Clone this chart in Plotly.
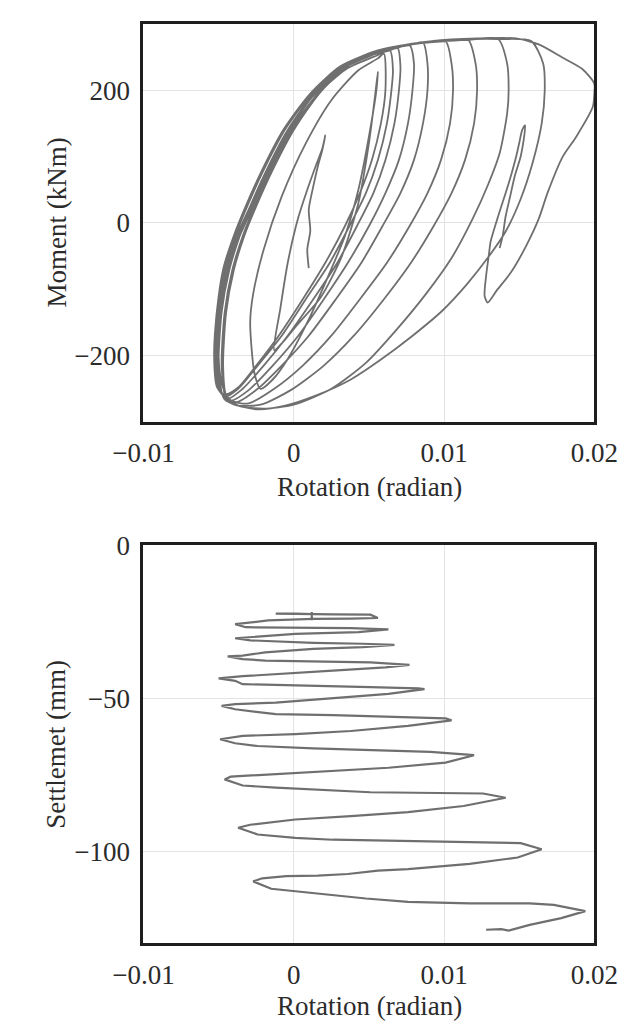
import plotly.graph_objects as go

# ---------------- tick definitions ----------------
rot_ticks = [-0.01, 0, 0.01, 0.02]
rot_tick_labels = ["\u22120.01", "0", "0.01", "0.02"]
moment_ticks = [-200, 0, 200]
moment_tick_labels = ["\u2212200", "0", "200"]
settle_ticks = [-100, -50, 0]
settle_tick_labels = ["\u2212100", "\u221250", "0"]

# ---------------- moment-rotation cycles ----------------
c0_rot = [0.0010, 0.0009, 0.0011, 0.0010, 0.0013, 0.0016, 0.0019, 0.0021, 0.0019, 0.0015, 0.0009, 0.0003, -0.0004, -0.0009, -0.0013, -0.0007, 0.0001, 0.0018, 0.0032, 0.0043, 0.0050, 0.0054, 0.0056]
c0_mom = [-68, -40, -12, 20, 55, 85, 110, 132, 112, 88, 50, 8, -60, -130, -192, -179, -157, -112, -50, 30, 120, 190, 228]

c1_rot = [0.0055, 0.0050, 0.0043, 0.0034, 0.0022, 0.0009, -0.0004, -0.0014, -0.0022, -0.0026, -0.0029, -0.0027, -0.0020, -0.0008, 0.0008, 0.0025, 0.0043, 0.0056]
c1_mom = [200, 130, 50, -20, -85, -150, -205, -236, -250, -228, -150, -107, -40, 40, 120, 185, 230, 248]

c2_rot = [0.0060, 0.0061, 0.0058, 0.0052, 0.0044, 0.0034, 0.0021, 0.0006, -0.0010, -0.0025, -0.0037, -0.0045, -0.0048, -0.0050, -0.0048, -0.0043, -0.0036, -0.0027, -0.0016, -0.0002, 0.0015, 0.0035, 0.0055]
c2_mom = [255, 200, 150, 95, 45, -5, -60, -115, -170, -215, -248, -258, -240, -200, -130, -70, -20, 25, 80, 140, 192, 232, 252]

c3_rot = [0.0064, 0.0066, 0.0065, 0.0062, 0.0056, 0.0048, 0.0037, 0.0024, 0.0008, -0.0008, -0.0024, -0.0037, -0.0046, -0.0050, -0.0052, -0.0050, -0.0045, -0.0038, -0.0029, -0.0018, -0.0004, 0.0014, 0.0034, 0.0055, 0.0064]
c3_mom = [260, 230, 200, 150, 95, 45, -5, -60, -115, -170, -215, -250, -262, -245, -200, -130, -70, -20, 25, 80, 140, 194, 234, 255, 260]

c4_rot = [0.0069, 0.0071, 0.0070, 0.0067, 0.0061, 0.0053, 0.0042, 0.0029, 0.0013, -0.0004, -0.0020, -0.0034, -0.0044, -0.0051, -0.0053, -0.0051, -0.0046, -0.0039, -0.0031, -0.0020, -0.0006, 0.0012, 0.0032, 0.0055, 0.0069]
c4_mom = [264, 235, 200, 150, 95, 45, -5, -60, -115, -170, -215, -250, -265, -245, -200, -130, -70, -20, 25, 80, 140, 195, 236, 257, 264]

c5_rot = [0.0077, 0.0080, 0.0079, 0.0076, 0.0070, 0.0061, 0.0050, 0.0036, 0.0020, 0.0003, -0.0014, -0.0030, -0.0042, -0.0051, -0.0053, -0.0051, -0.0047, -0.0040, -0.0032, -0.0021, -0.0007, 0.0011, 0.0031, 0.0055, 0.0077]
c5_mom = [268, 240, 200, 150, 95, 45, -5, -60, -115, -170, -215, -252, -268, -248, -200, -130, -70, -20, 25, 80, 140, 195, 236, 259, 268]

c6_rot = [0.0086, 0.0089, 0.0089, 0.0086, 0.0080, 0.0071, 0.0059, 0.0045, 0.0028, 0.0010, -0.0008, -0.0024, -0.0038, -0.0046, -0.0050, -0.0052, -0.0050, -0.0046, -0.0039, -0.0031, -0.0020, -0.0006, 0.0012, 0.0032, 0.0056, 0.0086]
c6_mom = [272, 240, 200, 150, 95, 45, -5, -60, -115, -170, -215, -250, -270, -262, -250, -205, -130, -70, -20, 25, 80, 140, 196, 237, 260, 272]

c7_rot = [0.0101, 0.0105, 0.0106, 0.0104, 0.0098, 0.0089, 0.0077, 0.0062, 0.0044, 0.0025, 0.0006, -0.0013, -0.0030, -0.0042, -0.0049, -0.0051, -0.0049, -0.0044, -0.0037, -0.0029, -0.0018, -0.0004, 0.0014, 0.0034, 0.0058, 0.0085, 0.0101]
c7_mom = [274, 240, 200, 150, 95, 45, -5, -60, -115, -170, -215, -250, -272, -268, -252, -205, -130, -70, -20, 25, 80, 140, 197, 238, 261, 271, 274]

c8_rot = [0.0116, 0.0121, 0.0122, 0.0120, 0.0114, 0.0105, 0.0093, 0.0078, 0.0060, 0.0040, 0.0020, -0.0002, -0.0022, -0.0038, -0.0046, -0.0048, -0.0050, -0.0048, -0.0043, -0.0036, -0.0028, -0.0017, -0.0003, 0.0015, 0.0036, 0.0060, 0.0088, 0.0116]
c8_mom = [276, 240, 200, 150, 95, 45, -5, -60, -115, -170, -215, -252, -274, -275, -266, -255, -210, -135, -72, -20, 25, 80, 140, 198, 240, 262, 272, 276]

c9_rot = [0.0136, 0.0142, 0.0143, 0.0142, 0.0137, 0.0129, 0.0119, 0.0105, 0.0088, 0.0068, 0.0048, 0.0025, 0.0000, -0.0020, -0.0036, -0.0044, -0.0046, -0.0048, -0.0046, -0.0041, -0.0034, -0.0026, -0.0015, -0.0001, 0.0017, 0.0038, 0.0062, 0.0090, 0.0120, 0.0136]
c9_mom = [277, 240, 200, 165, 105, 56, 6, -53, -107, -162, -211, -250, -274, -280, -276, -266, -258, -212, -135, -72, -20, 25, 80, 140, 198, 241, 263, 273, 277, 277]

c10_rot = [0.0158, 0.0166, 0.0167, 0.0165, 0.0159, 0.0151, 0.0141, 0.0129, 0.0115, 0.0099, 0.0078, 0.0058, 0.0038, 0.0015, -0.0005, -0.0024, -0.0038, -0.0045, -0.0047, -0.0045, -0.0040, -0.0033, -0.0025, -0.0014, 0.0000, 0.0018, 0.0039, 0.0063, 0.0092, 0.0122, 0.0148, 0.0163, 0.0179, 0.0192, 0.0200]
c10_mom = [274, 240, 199, 150, 91, 36, -13, -53, -93, -132, -172, -206, -236, -260, -275, -281, -274, -260, -215, -135, -72, -20, 25, 80, 140, 198, 241, 263, 274, 278, 278, 269, 249, 232, 210]

c11_rot = [0.0200, 0.0199, 0.0188, 0.0179, 0.0169, 0.0163, 0.0155, 0.0145, 0.0135, 0.0129, 0.0127, 0.0128, 0.0130, 0.0131, 0.0136, 0.0141, 0.0145, 0.0148, 0.0150, 0.0152, 0.0154, 0.0153, 0.0151, 0.0147, 0.0144, 0.0141, 0.0139, 0.0137]
c11_mom = [195, 175, 130, 100, 46, 6, -33, -73, -102, -120, -110, -80, -45, -28, 10, 45, 75, 100, 120, 140, 147, 125, 100, 70, 40, 10, -20, -38]

cycles_rot = [c0_rot, c1_rot, c2_rot, c3_rot, c4_rot, c5_rot, c6_rot, c7_rot, c8_rot, c9_rot, c10_rot, c11_rot]
cycles_mom = [c0_mom, c1_mom, c2_mom, c3_mom, c4_mom, c5_mom, c6_mom, c7_mom, c8_mom, c9_mom, c10_mom, c11_mom]

# ---------------- settlement-rotation path ----------------
settle_rot = [0.0012, 0.0012, 0.0012, 0.0001, -0.0012, 0.0001, 0.0026, 0.0051, 0.0056,
              0.0038, 0.0013, -0.0017, -0.0034, -0.0039,
              -0.0032, 0.0001, 0.0038, 0.0063,
              0.0043, 0.0001, -0.0029, -0.0039,
              -0.0029, 0.0013, 0.0046, 0.0067,
              0.0046, 0.0013, -0.0019, -0.0034, -0.0044,
              -0.0034, -0.0019, 0.0016, 0.0051, 0.0077,
              0.0061, 0.0026, -0.0012, -0.0034, -0.0050,
              -0.0039, -0.0034, 0.0001, 0.0051, 0.0083, 0.0087,
              0.0063, 0.0026, -0.0012, -0.0039, -0.0048,
              -0.0039, -0.0012, 0.0026, 0.0076, 0.0101, 0.0105,
              0.0076, 0.0038, 0.0001, -0.0034, -0.0049,
              -0.0039, -0.0024, 0.0013, 0.0051, 0.0091, 0.0120,
              0.0101, 0.0063, 0.0026, -0.0012, -0.0042, -0.0046,
              -0.0034, -0.0012, 0.0026, 0.0051, 0.0126, 0.0141,
              0.0113, 0.0076, 0.0038, 0.0001, -0.0029, -0.0037,
              -0.0024, 0.0001, 0.0026, 0.0076, 0.0151, 0.0165,
              0.0149, 0.0117, 0.0097, 0.0076, 0.0056, 0.0036, 0.0016, -0.0005, -0.0021, -0.0027,
              -0.0015, 0.0016, 0.0048, 0.0076, 0.0117, 0.0157, 0.0173, 0.0194,
              0.0178, 0.0157, 0.0143, 0.0138, 0.0128]
settle_mm = [-21.8, -24.6, -22.5, -22.4, -22.4, -22.5, -22.6, -22.7, -23.8,
             -24.0, -24.1, -24.6, -25.4, -25.8,
             -26.8, -27.0, -27.1, -27.5,
             -28.4, -29.0, -30.1, -30.4,
             -31.1, -31.9, -32.2, -32.6,
             -33.3, -33.9, -35.0, -36.1, -36.3,
             -37.2, -37.7, -38.0, -38.3, -39.1,
             -39.9, -41.0, -42.1, -42.8, -43.5,
             -44.3, -45.4, -45.9, -46.4, -46.8, -47.0,
             -48.6, -50.1, -51.4, -51.9, -52.5,
             -53.6, -55.2, -55.5, -56.3, -56.6, -57.2,
             -59.0, -60.7, -61.7, -62.3, -63.4,
             -64.7, -65.6, -66.4, -66.9, -67.5, -68.6,
             -71.0, -72.7, -73.8, -74.9, -75.6, -76.5,
             -78.5, -79.2, -80.0, -80.7, -81.1, -82.5,
             -85.2, -87.2, -88.5, -89.6, -91.3, -92.3,
             -94.5, -95.6, -96.2, -96.7, -97.3, -99.3,
             -102.0, -104.1, -104.9, -105.8, -106.3, -107.4, -107.9, -108.1, -108.8, -109.8,
             -112.2, -113.8, -115.4, -116.5, -117.0, -117.0, -117.5, -119.5,
             -121.8, -124.0, -125.9, -125.4, -125.6]

# ---------------- build figure ----------------
line_color = "#6f6f6f"
font_family = "Liberation Serif, Times New Roman, serif"
text_color = "#2b2b2b"

all_rot = []
all_mom = []
for r, m in zip(cycles_rot, cycles_mom):
    all_rot += r
    all_mom += m

fig = go.Figure()
fig.add_trace(go.Scatter(x=all_rot, y=all_mom, mode="lines",
                         line=dict(color=line_color, width=1.8, shape="spline", smoothing=0.7),
                         xaxis="x", yaxis="y", showlegend=False, hoverinfo="skip"))
fig.add_trace(go.Scatter(x=settle_rot, y=settle_mm, mode="lines",
                         line=dict(color=line_color, width=2.2),
                         xaxis="x2", yaxis="y2", showlegend=False, hoverinfo="skip"))

W, H = 643, 1026
x_dom = [123 / W, 616 / W]
top_dom = [1 - 413 / H, 1 - 9 / H]
bot_dom = [1 - 942 / H, 1 - 538 / H]

axis_common = dict(showline=True, mirror=True, linecolor="#1e1e1e", linewidth=3,
                   showgrid=True, gridcolor="#e3e3e3", gridwidth=1, zeroline=False,
                   ticks="", ticklabeloverflow="allow", ticklabelstandoff=5,
                   tickfont=dict(family=font_family, size=27, color=text_color))

fig.update_layout(
    width=W, height=H,
    margin=dict(l=0, r=0, t=0, b=0),
    paper_bgcolor="white", plot_bgcolor="white",
    font=dict(family=font_family, color=text_color),
    xaxis=dict(domain=x_dom, anchor="y", range=[-0.01, 0.02], tickvals=rot_ticks,
               ticktext=rot_tick_labels, **axis_common),
    yaxis=dict(domain=top_dom, anchor="x", range=[-300, 300], tickvals=moment_ticks,
               ticktext=moment_tick_labels, **axis_common),
    xaxis2=dict(domain=x_dom, anchor="y2", range=[-0.01, 0.02], tickvals=rot_ticks,
                ticktext=rot_tick_labels, **axis_common),
    yaxis2=dict(domain=bot_dom, anchor="x2", range=[-130, 0], tickvals=settle_ticks,
                ticktext=settle_tick_labels, **axis_common),
    annotations=[
        dict(text="Rotation (radian)", x=370 / W, y=1 - 479 / H, xref="paper", yref="paper",
             showarrow=False, xanchor="center", yanchor="middle",
             font=dict(family=font_family, size=27, color=text_color)),
        dict(text="Moment (kNm)", x=28 / W, y=1 - 211 / H, xref="paper", yref="paper",
             showarrow=False, xanchor="center", yanchor="middle", textangle=-90,
             font=dict(family=font_family, size=27, color=text_color)),
        dict(text="Rotation (radian)", x=370 / W, y=1 - 1006 / H, xref="paper", yref="paper",
             showarrow=False, xanchor="center", yanchor="middle",
             font=dict(family=font_family, size=27, color=text_color)),
        dict(text="Settlemet (mm)", x=28 / W, y=1 - 740 / H, xref="paper", yref="paper",
             showarrow=False, xanchor="center", yanchor="middle", textangle=-90,
             font=dict(family=font_family, size=27, color=text_color)),
    ],
)

fig.write_html("out.html")
